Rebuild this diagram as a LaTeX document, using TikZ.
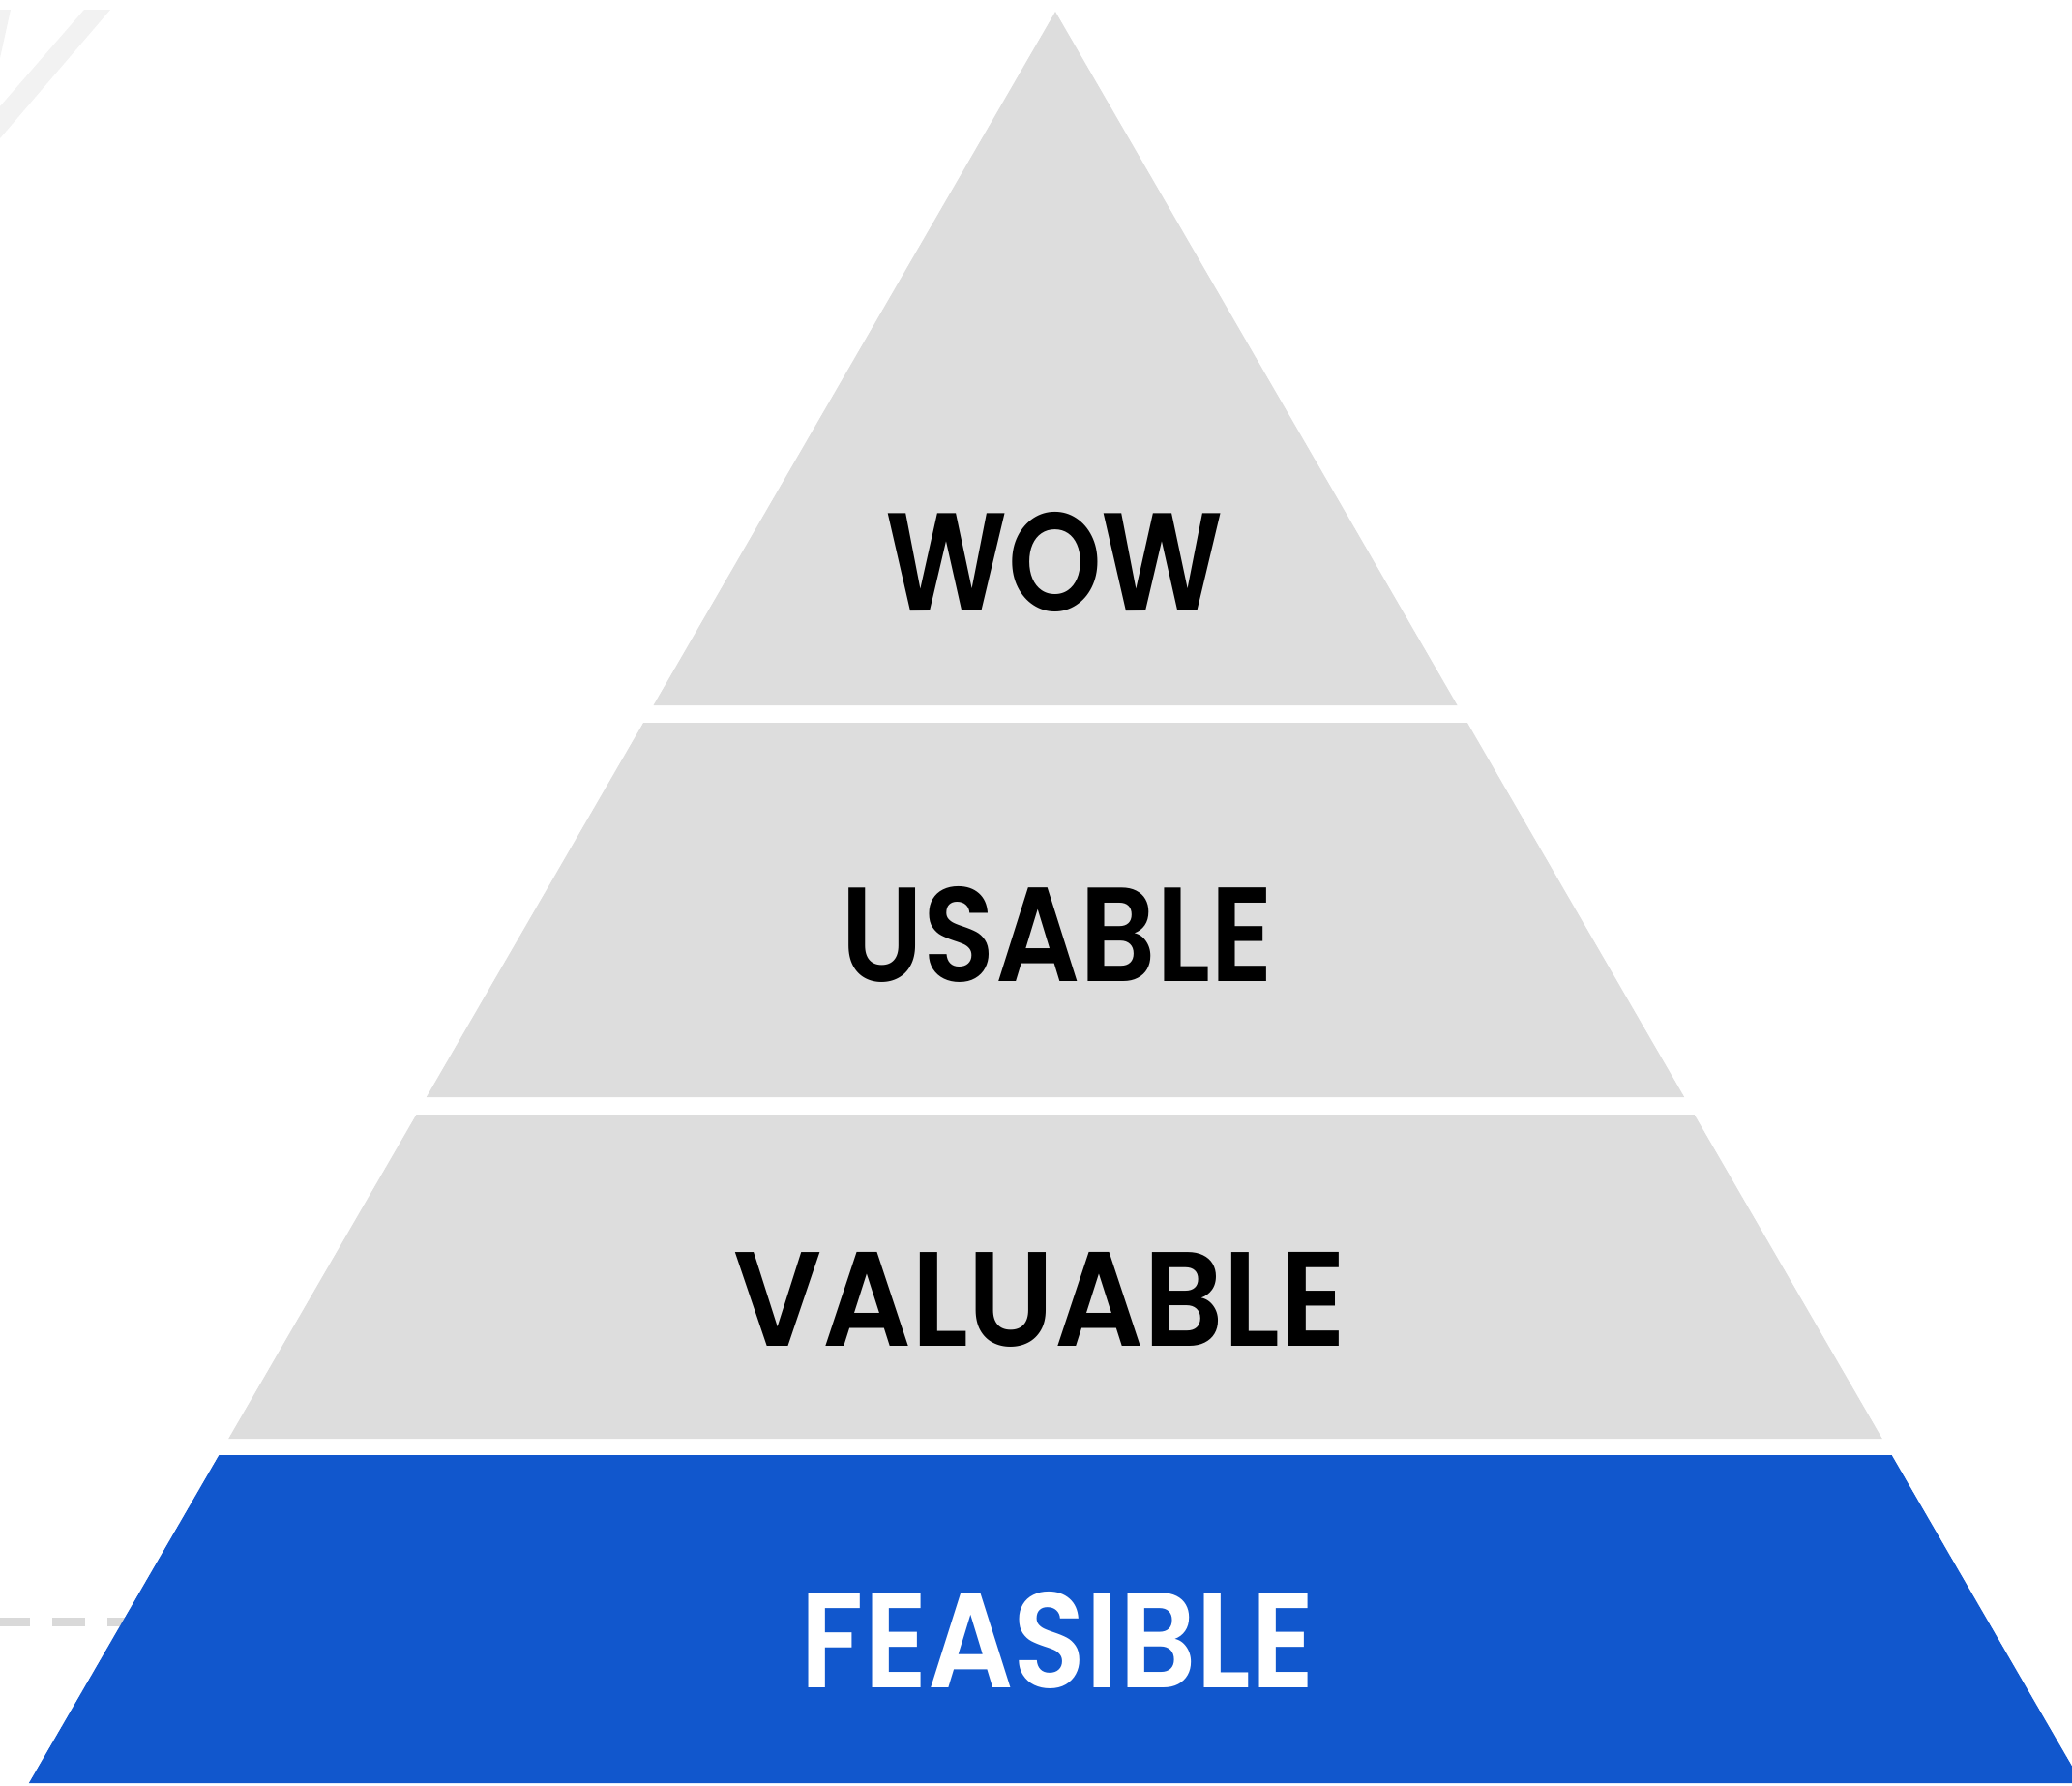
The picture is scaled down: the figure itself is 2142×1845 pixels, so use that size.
\documentclass[tikz,border=0pt]{standalone}
\usepackage{fontspec}
\newfontfamily\pop{Poppins SemiBold}
\usepackage{graphicx}
\definecolor{tiergray}{RGB}{221,221,221}
\definecolor{tierblue}{RGB}{17,87,205}
\definecolor{stripegray}{RGB}{242,242,242}
\definecolor{dashgray}{RGB}{217,217,217}
\tikzset{
  tier/.style={fill=tiergray, draw=none},
  basetier/.style={fill=tierblue, draw=none},
  label/.style={inner sep=0pt, outer sep=0pt},
  stripe/.style={fill=stripegray, draw=none},
}
\newcommand{\tiertext}[3]{\resizebox{#1}{#2}{\pop #3}}
\begin{document}
\begin{tikzpicture}[x=0.01cm, y=-0.01cm]
\useasboundingbox (0,0) rectangle (2142,1845);
\clip (0,0) rectangle (2142,1845);
% background stripes
\fill[stripe] (87,10) -- (114,10) -- (0,143) -- (0,110) -- cycle;
\fill[stripe] (0,10) -- (11,10) -- (0,60) -- cycle;
% dashed guide line
\draw[dashgray, line width=0.09cm, dash pattern=on 0.34cm off 0.23cm] (-3,1676) -- (300,1676);
% tiers
\fill[tier] (1091,12) -- (1506.5,729) -- (675.5,729) -- cycle;
\fill[tier] (665.1,747) -- (1516.9,747) -- (1741.2,1134) -- (440.8,1134) -- cycle;
\fill[tier] (430.4,1152) -- (1751.6,1152) -- (1945.8,1487) -- (236.2,1487) -- cycle;
\fill[basetier] (226.4,1504) -- (1955.6,1504) -- (2152.1,1843) -- (29.9,1843) -- cycle;
% labels
\node[label, text=black] (wow) at (1090.5,581) {\tiertext{3.49cm}{1.02cm}{WOW}};
\node[label, text=black] (usable) at (1093,966) {\tiertext{4.46cm}{0.98cm}{USABLE}};
\node[label, text=black] (valuable) at (1075.5,1343) {\tiertext{6.33cm}{0.97cm}{VALUABLE}};
\node[label, text=white] (feasible) at (1093.5,1695.5) {\tiertext{5.31cm}{0.99cm}{FEASIBLE}};
\end{tikzpicture}
\end{document}
